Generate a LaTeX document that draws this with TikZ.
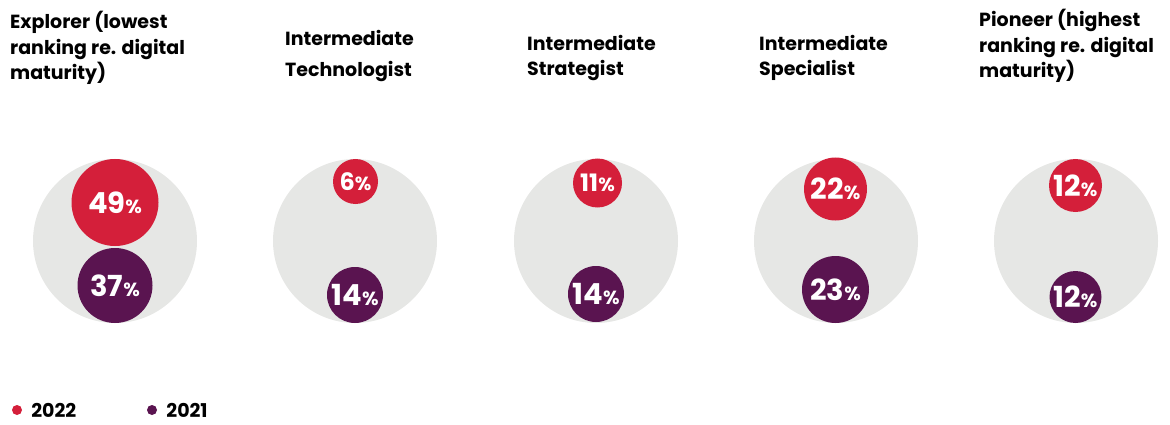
\documentclass[tikz,border=0pt]{standalone}
\usepackage{fontspec}
\setmainfont{Poppins}
\usepackage{tikz}
\usetikzlibrary{positioning}
\definecolor{crimson}{HTML}{D41F3A}
\definecolor{plum}{HTML}{5A1450}
\definecolor{ash}{HTML}{E6E7E5}
\newcommand{\pct}[1]{#1{\fontsize{19}{19}\selectfont\%}}

\begin{document}
\begin{tikzpicture}[x=1pt, y=-1pt,
		bigdisc/.style={circle, fill=ash, inner sep=0pt, minimum size=164pt},
		yrA/.style={circle, fill=crimson, inner sep=0pt, text=white, font=\bfseries\fontsize{29}{29}\selectfont},
		yrB/.style={circle, fill=plum, inner sep=0pt, text=white, font=\bfseries\fontsize{29}{29}\selectfont},
		heading/.style={anchor=north west, align=left, inner sep=0pt, font=\bfseries\fontsize{19}{25.5}\selectfont},
		legdot/.style={circle, inner sep=0pt, minimum size=10pt}]
		\useasboundingbox (0,0) rectangle (1170,425);
		% headings
		\node[heading] (h1) at (10,11) {Explorer (lowest\\ranking re. digital\\maturity)};
		\node[heading] (h2) at (285,30) {Intermediate\\[6pt]Technologist};
		\node[heading] (h3) at (527,35) {Intermediate\\Strategist};
		\node[heading] (h4) at (759,35) {Intermediate\\Specialist};
		\node[heading] (h5) at (979,9) {Pioneer (highest\\ranking re. digital\\maturity)};
		% grey backdrops
		\node[bigdisc] (g1) at (115,241) {};
		\node[bigdisc] (g2) at (355,241) {};
		\node[bigdisc] (g3) at (596,241) {};
		\node[bigdisc] (g4) at (836,241) {};
		\node[bigdisc] (g5) at (1076,241) {};
		% 2022
		\node[yrA, minimum size=87pt] (a1) at (115,202.5) {\pct{49}};
		\node[yrA, minimum size=45pt, font=\bfseries\fontsize{24}{24}\selectfont] (a2) at (355.5,181.5) {\pct{6}};
		\node[yrA, minimum size=49pt, font=\bfseries\fontsize{24}{24}\selectfont] (a3) at (597.5,183) {\pct{11}};
		\node[yrA, minimum size=63pt] (a4) at (835.5,189) {\pct{22}};
		\node[yrA, minimum size=53pt] (a5) at (1075.5,185.5) {\pct{12}};
		% 2021
		\node[yrB, minimum size=75pt] (b1) at (115,285.5) {\pct{37}};
		\node[yrB, minimum size=56pt] (b2) at (355,295) {\pct{14}};
		\node[yrB, minimum size=56pt] (b3) at (596,294) {\pct{14}};
		\node[yrB, minimum size=67pt] (b4) at (835.5,289.5) {\pct{23}};
		\node[yrB, minimum size=52pt] (b5) at (1075.5,297) {\pct{12}};
		% legend
		\node[legdot, fill=crimson] (d1) at (17,410) {};
		\node[right=9pt of d1, inner sep=0pt, font=\bfseries\fontsize{19}{19}\selectfont] (l1) {2022};
		\node[legdot, fill=plum] (d2) at (152,410) {};
		\node[right=9pt of d2, inner sep=0pt, font=\bfseries\fontsize{19}{19}\selectfont] (l2) {2021};
	\end{tikzpicture}
\end{document}
